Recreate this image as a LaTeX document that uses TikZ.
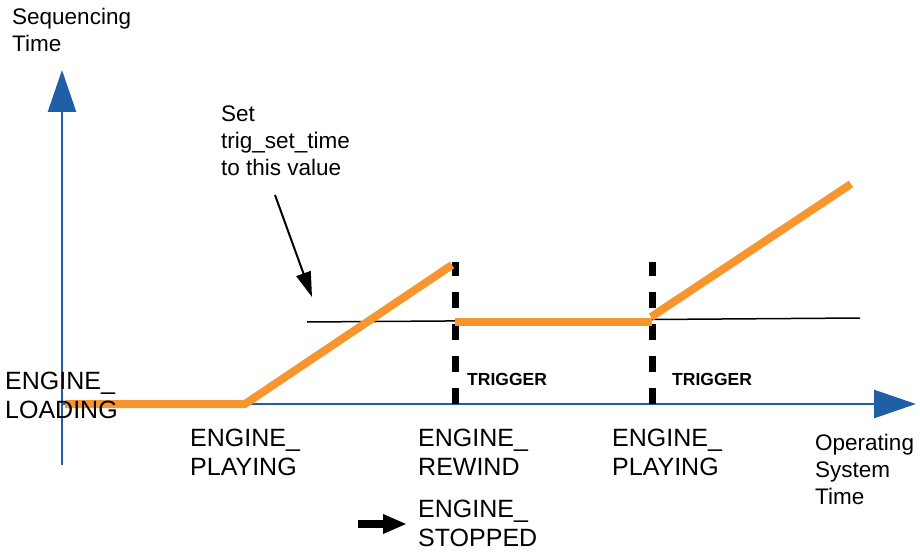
\documentclass[tikz,border=0pt]{standalone}
\usepackage{fontspec}
\setmainfont{Liberation Sans}
\usetikzlibrary{arrows.meta,positioning}
\definecolor{axisblue}{HTML}{1F5FA6}
\definecolor{seqorange}{HTML}{F7962F}

\begin{document}
\begin{tikzpicture}[x=1pt,y=-1pt,
        axis/.style={axisblue,line width=2.5pt,-{Triangle[length=42pt,width=28pt]}},
        seq/.style={seqorange,line width=8pt},
        trig/.style={black,line width=7pt,dash pattern=on 16pt off 16pt},
        lbl/.style={anchor=north west,inner sep=0pt,align=left,font=\fontsize{22.5}{27}\selectfont},
        state/.style={lbl,font=\fontsize{25}{29}\selectfont},
        trigtxt/.style={lbl,font=\fontsize{17.5}{20}\selectfont\bfseries}]
    \useasboundingbox (0,0) rectangle (920,553);
        % axes
        \coordinate (y_bot) at (62,465);
        \coordinate (y_top) at (62,70);
        \coordinate (x_left) at (62,404);
        \coordinate (x_right) at (916,404);
        \draw[axis] (y_bot) -- (y_top);
        \draw[axis] (x_left) -- (x_right);
        \node[lbl] (seqtime) at (12,8) {Sequencing\\Time};
        \node[lbl] (ostime) at (815,434) {Operating\\System\\Time};
        % set value line
        \coordinate (set_a) at (307,322);
        \coordinate (set_b) at (860,318);
        \draw[black,line width=1.5pt] (set_a) -- (set_b);
        % trigger markers
        \coordinate (t1_bot) at (455,404);
        \coordinate (t1_top) at (455,262);
        \coordinate (t2_bot) at (652,404);
        \coordinate (t2_top) at (652,262);
        \draw[trig] (t1_bot) -- (t1_top);
        \draw[trig] (t2_bot) -- (t2_top);
        \node[trigtxt] (trig1) at (467,373) {TRIGGER};
        \node[trigtxt] (trig2) at (672,373) {TRIGGER};
        % sequencing time curve
        \coordinate (s0) at (65,404);
        \coordinate (s1) at (245,404);
        \coordinate (s2) at (452,265);
        \coordinate (s3) at (455,322);
        \coordinate (s4) at (652,322);
        \coordinate (s5) at (651,317);
        \coordinate (s6) at (851,184);
        \draw[seq] (s0) -- (s1) -- (s2);
        \draw[seq] (s3) -- (s4);
        \draw[seq] (s5) -- (s6);
        % callout
        \node[lbl] (setnote) at (221,106) {Set\\trig\_set\_time\\to this value};
        \coordinate (call_a) at (275,195);
        \coordinate (call_b) at (312,297);
        \draw[black,line width=2pt,-{Triangle[length=25pt,width=15pt]}] (call_a) -- (call_b);
        % engine states
        \node[state] (loading) at (5,372) {ENGINE\_\\LOADING};
        \node[state] (playing1) at (190,429) {ENGINE\_\\PLAYING};
        \node[state] (rewind) at (418,429) {ENGINE\_\\REWIND};
        \node[state] (playing2) at (612,429) {ENGINE\_\\PLAYING};
        \node[state] (stopped) at (418,500) {ENGINE\_\\STOPPED};
        \coordinate (stop_a) at (358,524);
        \coordinate (stop_b) at (407,524);
        \draw[black,line width=8pt,-{Triangle[length=24pt,width=18pt]}] (stop_a) -- (stop_b);
\end{tikzpicture}
\end{document}
